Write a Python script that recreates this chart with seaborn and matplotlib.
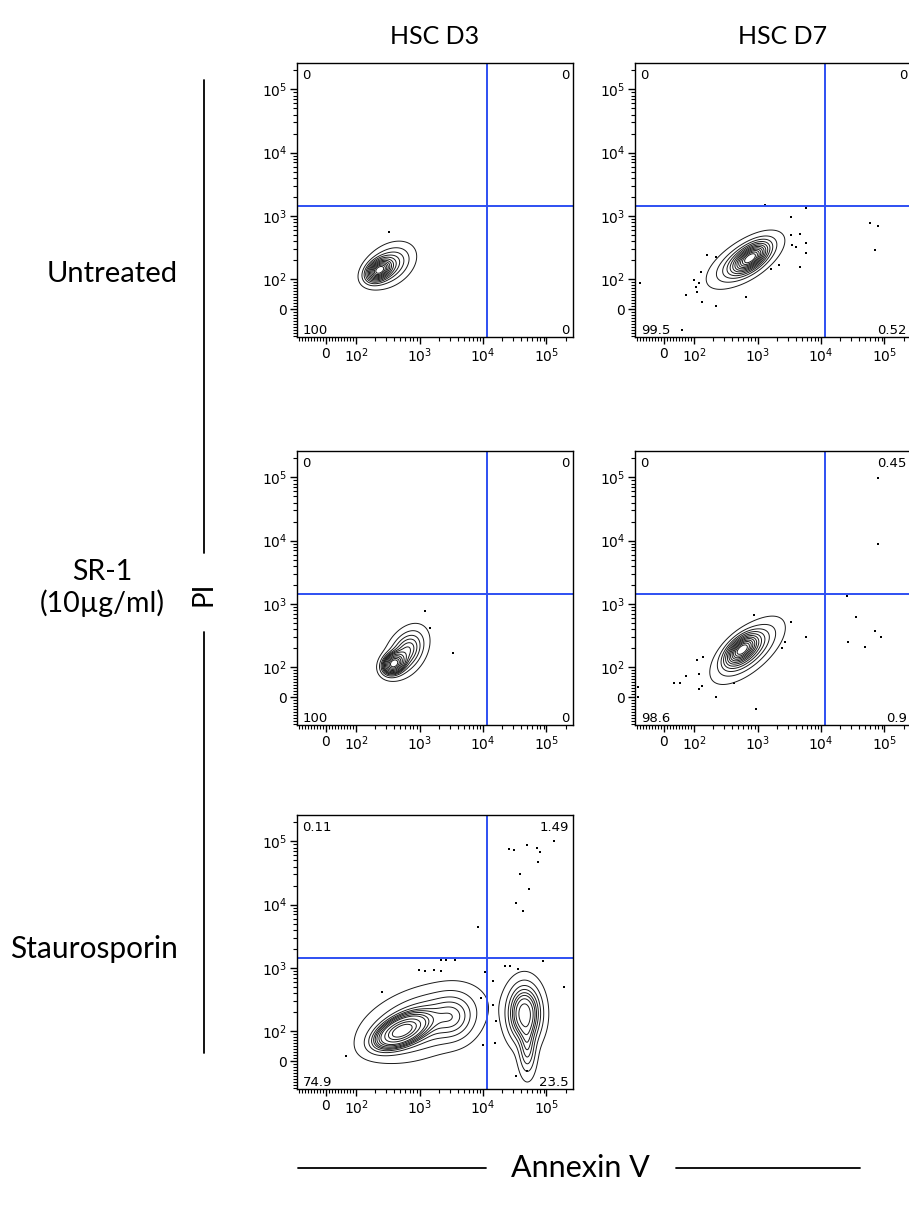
import numpy as np
import matplotlib
matplotlib.use("Agg")
import matplotlib.pyplot as plt
import seaborn as sns
from matplotlib.lines import Line2D
from matplotlib.ticker import FixedLocator, FixedFormatter

sns.set_style("white")
plt.rcParams["font.family"] = ["DejaVu Sans"]
plt.rcParams["axes.edgecolor"] = "black"
plt.rcParams["text.color"] = "black"
plt.rcParams["xtick.color"] = "black"
plt.rcParams["ytick.color"] = "black"

# ---------------- data ----------------
col_titles = ["HSC D3", "HSC D7"]
row_labels = ["Untreated", "SR-1\n(10µg/ml)", "Staurosporin"]
x_label = "Annexin V"
y_label = "PI"

major_ticks = [0, 1e2, 1e3, 1e4, 1e5]
major_labels = ["0", "$10^2$", "$10^3$", "$10^4$", "$10^5$"]

gate_x = 11500     # Annexin V gate
gate_y = 1450      # PI gate

# quadrant percentages: top-left, top-right, bottom-left, bottom-right
pct_untreated_d3 = ["0", "0", "100", "0"]
pct_untreated_d7 = ["0", "0", "99.5", "0.52"]
pct_sr1_d3 = ["0", "0", "100", "0"]
pct_sr1_d7 = ["0", "0.45", "98.6", "0.9"]
pct_stauro_d3 = ["0.11", "1.49", "74.9", "23.5"]

# populations: (centre Annexin V, centre PI, sd major [decades], sd minor [decades], tilt deg, weight)
pop_untreated_d3 = [(230, 138, 0.12, 0.08, 35, 0.55), (330, 165, 0.21, 0.14, 35, 0.45)]
pop_untreated_d7 = [(780, 215, 0.18, 0.09, 38, 0.5), (640, 200, 0.30, 0.13, 33, 0.5)]
pop_sr1_d3 = [(390, 113, 0.10, 0.08, 40, 0.5), (620, 175, 0.21, 0.135, 58, 0.5)]
pop_sr1_d7 = [(560, 190, 0.17, 0.09, 42, 0.5), (700, 184, 0.31, 0.14, 41, 0.5)]
pop_stauro_d3 = [(520, 100, 0.23, 0.11, 25, 0.38), (1050, 135, 0.48, 0.25, 20, 0.30),
                 (3500, 160, 0.22, 0.20, 80, 0.07),
                 (45000, 190, 0.26, 0.15, 90, 0.21), (50000, 43, 0.25, 0.08, 90, 0.04)]

# single events outside the contours
dots_untreated_d3_x = [330]
dots_untreated_d3_y = [560]
dots_untreated_d7_x = [-77, 61, 74, 107, 100, 129, 160, 219, 225, 133, 650, 1330, 3400, 5900, 4600,
                       3400, 3500, 4000, 5900, 5900, 4600, 2150, 1600, 59000, 79000, 72000, 120, 110]
dots_untreated_d7_y = [87, -70, 47, 72, 96, 129, 237, 220, 10, 23, 40, 1500, 970, 1350, 520,
                       490, 340, 320, 365, 255, 155, 165, 145, 780, 700, 285, 87, 57]
dots_sr1_d3_x = [1230, 1470, 3400]
dots_sr1_d3_y = [780, 410, 165]
dots_sr1_d7_x = [-84, -84, 35, 52, 74, 112, 120, 140, 120, 133, 220, 960, 420, 870, 3400, 2700,
                 2450, 5900, 26000, 36000, 27000, 50000, 72000, 87000, 79000, 79000]
dots_sr1_d7_y = [33, 0, 47, 47, 70, 129, 77, 145, 27, 37, 0, -40, 47, 670, 520, 245,
                 200, 295, 1330, 610, 245, 210, 365, 300, 97000, 9000]
dots_stauro_d3_x = [26000, 31000, 50000, 72000, 130000, 80000, 74000, 38000, 54000, 33000, 42000,
                    8300, 2150, 2650, 3650, 970, 1240, 1700, 2200, 260, 68, 10000, 9300, 14500,
                    14500, 15500, 16000, 22000, 27000, 35000, 87000, 190000, 33000, 50000, 10700]
dots_stauro_d3_y = [75000, 73000, 87000, 80000, 100000, 68000, 47000, 30000, 18000, 10700, 8000,
                    4500, 1350, 1350, 1350, 930, 900, 930, 900, 420, 17, 53, 330, 255,
                    610, 60, 143, 1050, 1050, 960, 1290, 500, -50, -33, 860]

panels = [
    (0, 0, pct_untreated_d3, pop_untreated_d3, dots_untreated_d3_x, dots_untreated_d3_y),
    (0, 1, pct_untreated_d7, pop_untreated_d7, dots_untreated_d7_x, dots_untreated_d7_y),
    (1, 0, pct_sr1_d3, pop_sr1_d3, dots_sr1_d3_x, dots_sr1_d3_y),
    (1, 1, pct_sr1_d7, pop_sr1_d7, dots_sr1_d7_x, dots_sr1_d7_y),
    (2, 0, pct_stauro_d3, pop_stauro_d3, dots_stauro_d3_x, dots_stauro_d3_y),
]

# ---------------- layout ----------------
W, H = 909, 1207
fig = plt.figure(figsize=(W / 100, H / 100), dpi=100)
col_left = [297, 635]
row_top = [63, 451, 815]
PW, PH = 276, 274
BLUE = "#2e4ff2"
enclosed = [0.97, 0.9, 0.82, 0.74, 0.66, 0.58, 0.50, 0.42, 0.34, 0.26, 0.18, 0.10]

minor_ticks = ([-90, -80, -70, -60, -50, -40, -30, -20, -10, 10, 20, 30, 40, 50, 60, 70, 80, 90]
               + [m * 10 ** e for e in (2, 3, 4) for m in range(2, 10)] + [2e5])


def prob_levels(Z, fracs):
    z = np.sort(Z.ravel())[::-1]
    c = np.cumsum(z)
    c /= c[-1]
    lv = sorted(set(float(z[min(np.searchsorted(c, f), len(z) - 1)]) for f in fracs))
    return lv


def px(x, y):
    return x / W, 1 - y / H


for r, c, pct, pops, dx, dy in panels:
    l, t = col_left[c], row_top[r]
    ax = fig.add_axes([l / W, 1 - (t + PH) / H, PW / W, PH / H])
    ax.set_xscale("symlog", linthresh=100, linscale=0.43, base=10)
    ax.set_yscale("symlog", linthresh=100, linscale=0.43, base=10)
    ax.set_xlim(-95, 262144)
    ax.set_ylim(-92, 262144)

    # density on a grid in display-like (transformed) space
    tx = ax.xaxis.get_transform()
    ty = ax.yaxis.get_transform()
    ux = np.linspace(*tx.transform(np.array([-95.0, 262144.0])), 360)
    uy = np.linspace(*ty.transform(np.array([-92.0, 262144.0])), 360)
    UX, UY = np.meshgrid(ux, uy)
    Z = np.zeros_like(UX)
    for cx, cy, sa, sb, ang, w in pops:
        cu = tx.transform(np.array([float(cx)]))[0]
        cv = ty.transform(np.array([float(cy)]))[0]
        th = np.deg2rad(ang)
        a = (UX - cu) * np.cos(th) + (UY - cv) * np.sin(th)
        b = -(UX - cu) * np.sin(th) + (UY - cv) * np.cos(th)
        sa_u, sb_u = sa * 100, sb * 100
        Z += w / (2 * np.pi * sa_u * sb_u) * np.exp(-0.5 * ((a / sa_u) ** 2 + (b / sb_u) ** 2))
    X = tx.inverted().transform(ux)
    Y = ty.inverted().transform(uy)
    ax.contour(X, Y, Z, levels=prob_levels(Z, enclosed), colors="#1a1a1a", linewidths=0.7)

    sns.scatterplot(x=dx, y=dy, ax=ax, s=1.5, color="black", marker="s",
                    linewidth=0, legend=False)

    ax.axvline(gate_x, color=BLUE, lw=1.4)
    ax.axhline(gate_y, color=BLUE, lw=1.4)

    for axis in (ax.xaxis, ax.yaxis):
        axis.set_major_locator(FixedLocator(major_ticks))
        axis.set_major_formatter(FixedFormatter(major_labels))
        axis.set_minor_locator(FixedLocator(minor_ticks))
    ax.tick_params(which="both", direction="out", bottom=True, left=True, top=False, right=False,
                   colors="black")
    ax.tick_params(which="major", length=5, width=1, labelsize=10, pad=2)
    ax.tick_params(which="minor", length=3, width=0.8)
    for sp in ax.spines.values():
        sp.set_linewidth(1)
        sp.set_color("black")

    fs = 9.5
    ax.text(5 / PW, 1 - 6 / PH, pct[0], transform=ax.transAxes, ha="left", va="top", fontsize=fs)
    ax.text(1 - 4 / PW, 1 - 6 / PH, pct[1], transform=ax.transAxes, ha="right", va="top", fontsize=fs)
    ax.text(6 / PW, 3 / PH, pct[2], transform=ax.transAxes, ha="left", va="baseline", fontsize=fs)
    ax.text(1 - 4 / PW, 3 / PH, pct[3], transform=ax.transAxes, ha="right", va="baseline", fontsize=fs)

# ---------------- outer labels ----------------
LF = ["Lato", "DejaVu Sans"]
fig.text(*px(435, 37), col_titles[0], ha="center", va="center", fontsize=18, family=LF)
fig.text(*px(783, 37), col_titles[1], ha="center", va="center", fontsize=18, family=LF)
fig.text(*px(178, 274), row_labels[0], ha="right", va="center", fontsize=21, family=LF)
fig.text(*px(102, 588), row_labels[1], ha="center", va="center", fontsize=20.5, family=LF,
         multialignment="center", linespacing=1.15)
fig.text(*px(178, 949), row_labels[2], ha="right", va="center", fontsize=21.5, family=LF)

fig.text(*px(204, 594), y_label, ha="center", va="center", rotation=90, fontsize=20, family=LF)
fig.add_artist(Line2D([204 / W, 204 / W], [1 - 80 / H, 1 - 553 / H], color="black", lw=1.3))
fig.add_artist(Line2D([204 / W, 204 / W], [1 - 632 / H, 1 - 1053 / H], color="black", lw=1.3))

fig.text(*px(580, 1168), x_label, ha="center", va="center", fontsize=22, family=LF)
fig.add_artist(Line2D([298 / W, 486 / W], [1 - 1168 / H, 1 - 1168 / H], color="black", lw=1.3))
fig.add_artist(Line2D([676 / W, 860 / W], [1 - 1168 / H, 1 - 1168 / H], color="black", lw=1.3))

fig.savefig("out.png", dpi=100)
